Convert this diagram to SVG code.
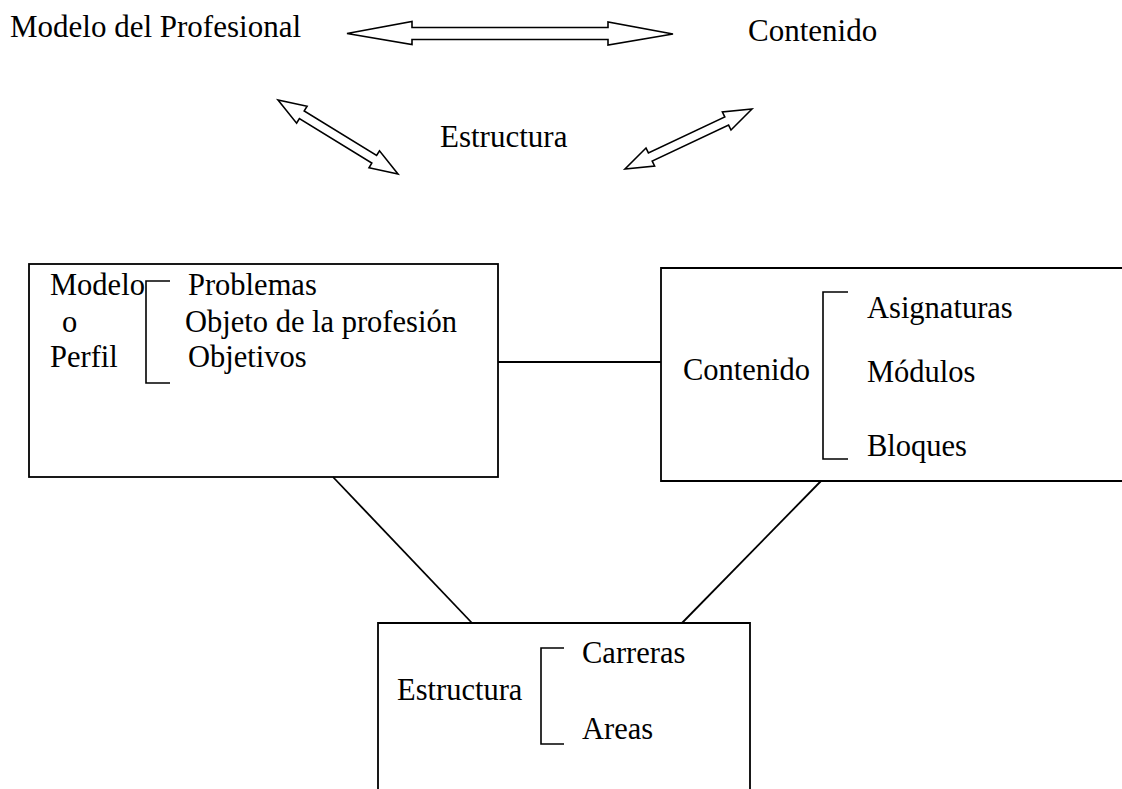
<svg xmlns="http://www.w3.org/2000/svg" width="1122" height="789" viewBox="0 0 1122 789">
<style>
text{font-family:"Liberation Serif","Times New Roman",serif;font-size:30.5px;fill:#000}
.top{font-size:31px}
.box{fill:none;stroke:#000;stroke-width:1.8}
.br{fill:none;stroke:#000;stroke-width:1.6}
.con{stroke:#000;stroke-width:1.8;fill:none}
.arr{fill:#fff;stroke:#000;stroke-width:1.6;stroke-linejoin:miter}
</style>
<rect width="1122" height="789" fill="#fff"/>
<g id="header">
<text class="top" x="10" y="37">Modelo del Profesional</text>
<text class="top" x="748" y="41">Contenido</text>
<text class="top" x="440" y="147">Estructura</text>
<polygon class="arr" points="347,33.5 412,21.5 412,27.5 608,27.5 608,22 673,34 608,45 608,39.5 412,39.5 412,44.5"/>
<polygon class="arr" points="278,100 296.6,123.2 299.4,118.5 371.8,163.1 369,167.8 398,174 379.5,150.8 376.6,155.5 304.2,110.9 307.1,106.2"/>
<polygon class="arr" points="752,109 731,130 728.6,125.1 652.2,161.1 654.6,166 625,169 646,148 648.4,152.9 724.8,116.9 722.4,112"/>
</g>
<g id="connectors">
<line class="con" x1="498" y1="362" x2="661" y2="362"/>
<line class="con" x1="333" y1="477" x2="472" y2="623"/>
<line class="con" x1="821" y1="481" x2="682" y2="623"/>
</g>
<g id="modelo">
<rect class="box" x="29" y="264" width="469" height="213"/>
<text x="50" y="295">Modelo</text>
<text x="62" y="332">o</text>
<text x="50" y="367">Perfil</text>
<path class="br" d="M170,281 H146 V383 H170"/>
<text x="188" y="295">Problemas</text>
<text x="185" y="332">Objeto de la profesión</text>
<text x="188" y="367">Objetivos</text>
</g>
<g id="contenido">
<path class="box" d="M1124,268 H661 V481 H1124"/>
<text x="683" y="380">Contenido</text>
<path class="br" d="M848,292 H823 V459 H848"/>
<text x="867" y="318">Asignaturas</text>
<text x="867" y="382">Módulos</text>
<text x="867" y="456">Bloques</text>
</g>
<g id="estructura">
<path class="box" d="M378,791 V623 H750 V791"/>
<text x="397" y="700">Estructura</text>
<path class="br" d="M564,648 H541 V744 H564"/>
<text x="582" y="663">Carreras</text>
<text x="582" y="739">Areas</text>
</g>
</svg>
